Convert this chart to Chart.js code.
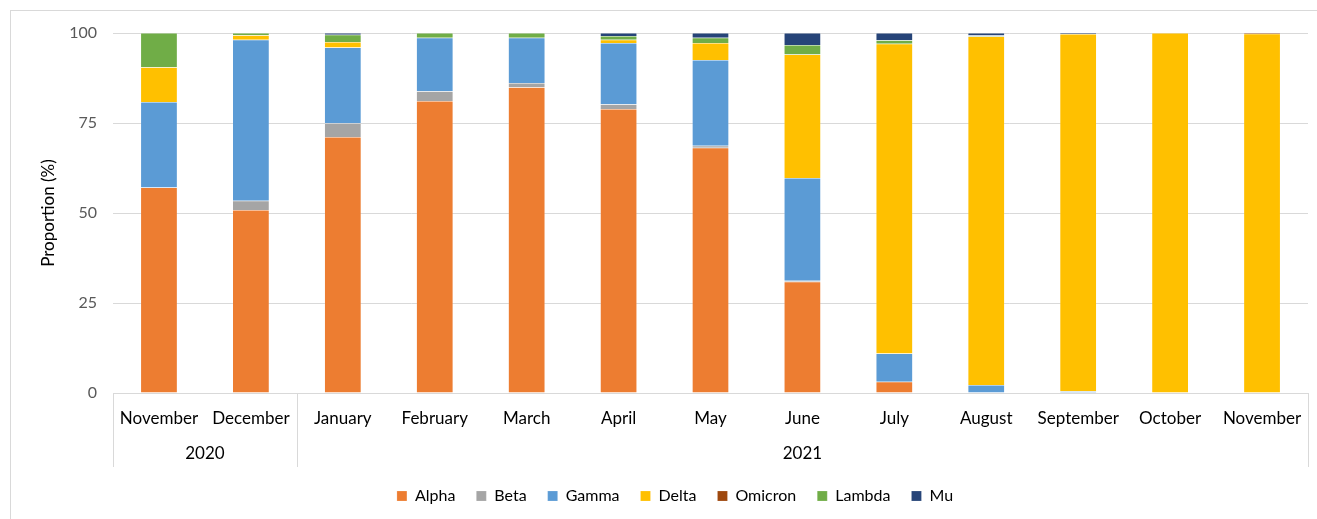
<!DOCTYPE html>
<html>
<head>
<meta charset="utf-8">
<script src="https://cdn.jsdelivr.net/npm/chart.js@4"></script>
<style>
  html, body { margin: 0; padding: 0; background: #fff; }
  #wrap { position: relative; width: 1317px; height: 519px; overflow: hidden; }
  #frame { position: absolute; left: 10px; top: 10px; width: 1400px; height: 600px; border-left: 1px solid #d9d9d9; border-top: 1px solid #d9d9d9; }
  canvas { position: absolute; left: 0; top: 0; }
</style>
</head>
<body>
<div id="wrap">
  <div id="frame"></div>
  <canvas id="c" width="1317" height="519"></canvas>
</div>
<script>
const months = ['November','December','January','February','March','April','May','June','July','August','September','October','November'];
const yearGroups = ['2020','2020','2021','2021','2021','2021','2021','2021','2021','2021','2021','2021','2021'];
const yTicks = [0, 25, 50, 75, 100];

const alpha   = [57.1, 50.8, 71.1, 81.1, 84.9, 78.9, 68.1, 30.9, 3.1, 0, 0, 0, 0];
const beta    = [0, 2.6, 3.8, 2.7, 1.2, 1.3, 0.6, 0.3, 0, 0, 0, 0, 0];
const gamma   = [23.7, 44.7, 21.1, 14.9, 12.6, 17.0, 23.8, 28.5, 7.9, 2.2, 0.5, 0, 0];
const delta   = [9.7, 1.3, 1.5, 0, 0, 0.9, 4.7, 34.3, 86.0, 96.8, 99.2, 100, 99.8];
const omicron = [0, 0, 0, 0, 0, 0, 0, 0, 0, 0, 0, 0, 0.2];
const lambda  = [9.5, 0.6, 2.0, 1.3, 1.3, 1.1, 1.5, 2.7, 1.0, 0.3, 0, 0, 0];
const mu      = [0, 0, 0.5, 0, 0, 0.8, 1.3, 3.3, 2.0, 0.7, 0.3, 0, 0];

const seriesNames = ['Alpha','Beta','Gamma','Delta','Omicron','Lambda','Mu'];
const seriesData = [alpha, beta, gamma, delta, omicron, lambda, mu];
const seriesColors = ['#ED7D31','#A5A5A5','#5B9BD5','#FFC000','#9E480E','#70AD47','#264478'];

const FONT = 'Lato, "Open Sans", sans-serif';
const AXIS_EXTRA = 74;

const legendShift = {
  id: 'legendShift',
  afterLayout(chart) {
    if (chart.legend) { chart.legend.left += 16; chart.legend.right += 16; }
  }
};

const yearPlugin = {
  id: 'yearGroups',
  afterDraw(chart) {
    const ctx = chart.ctx;
    const x = chart.scales.x;
    const area = chart.chartArea;
    const step = x.getPixelForValue(1) - x.getPixelForValue(0);
    const groups = [];
    yearGroups.forEach((y, i) => {
      if (!groups.length || groups[groups.length - 1].label !== y) groups.push({label: y, start: i, end: i});
      else groups[groups.length - 1].end = i;
    });
    ctx.save();
    ctx.strokeStyle = '#d9d9d9';
    ctx.lineWidth = 1;
    const top = area.bottom, bot = area.bottom + AXIS_EXTRA;
    const bounds = [];
    groups.forEach(g => {
      bounds.push(x.getPixelForValue(g.start) - step / 2);
    });
    bounds.push(x.getPixelForValue(groups[groups.length - 1].end) + step / 2);
    bounds.forEach(b => {
      const bx = Math.round(b) + 0.5;
      ctx.beginPath(); ctx.moveTo(bx, top); ctx.lineTo(bx, bot); ctx.stroke();
    });
    ctx.fillStyle = '#000';
    ctx.font = '17px ' + FONT;
    ctx.textAlign = 'center';
    ctx.textBaseline = 'middle';
    groups.forEach(g => {
      const l = x.getPixelForValue(g.start) - step / 2;
      const r = x.getPixelForValue(g.end) + step / 2;
      ctx.fillText(g.label, (l + r) / 2, area.bottom + 61);
    });
    ctx.restore();
  }
};

new Chart(document.getElementById('c'), {
  type: 'bar',
  data: {
    labels: months,
    datasets: seriesNames.map((n, i) => ({
      label: n,
      data: seriesData[i],
      backgroundColor: seriesColors[i],
      borderColor: 'rgba(255,255,255,0.35)',
      borderWidth: 0.5,
      categoryPercentage: 1,
      barPercentage: 0.4
    }))
  },
  options: {
    responsive: false,
    animation: false,
    layout: { padding: { top: 33, right: 9, left: 10, bottom: 5 } },
    plugins: {
      legend: {
        position: 'bottom',
        labels: {
          boxWidth: 10, boxHeight: 10, padding: 21,
          color: '#000',
          font: { size: 16, family: FONT }
        }
      },
      tooltip: { enabled: false }
    },
    scales: {
      x: {
        stacked: true,
        grid: { display: false },
        border: { display: true, color: '#d9d9d9' },
        ticks: { color: '#000', font: { size: 17, family: FONT }, padding: 7, maxRotation: 0, autoSkip: false },
        afterFit(s) { s.height = AXIS_EXTRA; }
      },
      y: {
        stacked: true,
        min: 0, max: 100,
        afterBuildTicks(s) { s.ticks = yTicks.map(v => ({ value: v })); },
        grid: { color: '#d9d9d9', drawTicks: false },
        border: { display: false },
        ticks: { color: '#595959', font: { size: 16, family: FONT }, padding: 16 },
        title: { display: true, text: 'Proportion (%)', color: '#000', font: { size: 17, family: FONT }, padding: { top: 28, bottom: 0 } },
        afterFit(s) { s.width = 103; }
      }
    }
  },
  plugins: [yearPlugin, legendShift]
});
</script>
</body>
</html>
